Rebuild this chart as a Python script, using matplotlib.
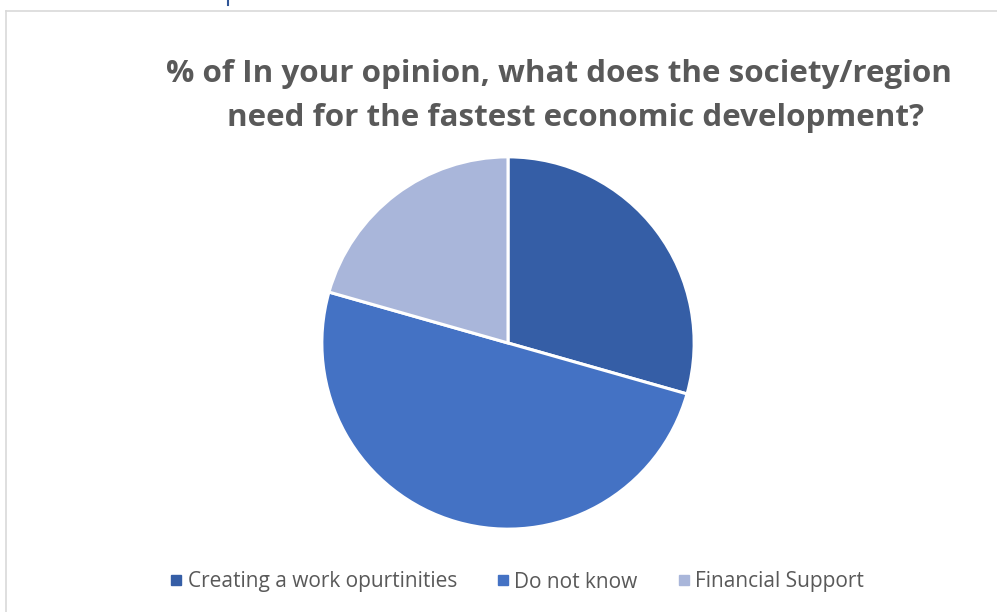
import matplotlib.pyplot as plt
from matplotlib.lines import Line2D

# survey answers (share of responses)
labels = ["Creating a work opurtinities", "Do not know", "Financial Support"]
values = [10, 17, 7]
colors = ["#355EA6", "#4472C4", "#A9B6DA"]

W, H = 997, 612
fig = plt.figure(figsize=(W / 100, H / 100), dpi=100)
fig.patch.set_facecolor("white")

# chart frame (left and top edges visible)
fig.add_artist(Line2D([6 / W, 6 / W], [0, 1 - 11 / H], color="#D9D9D9", lw=1.2))
fig.add_artist(Line2D([6 / W, 1], [1 - 11 / H, 1 - 11 / H], color="#D9D9D9", lw=1.2))
# bit of text cut off above the frame
fig.add_artist(Line2D([228 / W, 228 / W], [1 - 5 / H, 1], color="#2F5597", lw=1.5))

# title, two lines
tstyle = dict(ha="center", va="center", fontsize=22.6, fontweight="bold",
              color="#595959", family="Open Sans")
fig.text(559 / W, 1 - 74 / H, "% of In your opinion, what does the society/region", **tstyle)
fig.text(575 / W, 1 - 118 / H, "need for the fastest economic development?", **tstyle)

# pie
cx, cy, r = 508, 343, 188
ax = fig.add_axes([(cx - r) / W, (H - cy - r) / H, 2 * r / W, 2 * r / H])
wedges, _ = ax.pie(values, colors=colors, startangle=90, counterclock=False,
                   wedgeprops=dict(edgecolor="white", linewidth=2.2))
ax.set_xlim(-1.01, 1.01)
ax.set_ylim(-1.01, 1.01)
ax.axis("off")

handles = [Line2D([], [], marker="s", linestyle="none", markersize=6.5,
                  markerfacecolor=c, markeredgecolor=c) for c in colors]
fig.legend(handles, labels, loc="center", bbox_to_anchor=(517 / W, 1 - 582 / H), ncol=3,
           frameon=False, prop={"family": "Open Sans", "size": 15}, labelcolor="#595959",
           handletextpad=0.25, columnspacing=1.9, handlelength=0.6)

fig.savefig("out.png", dpi=100)
